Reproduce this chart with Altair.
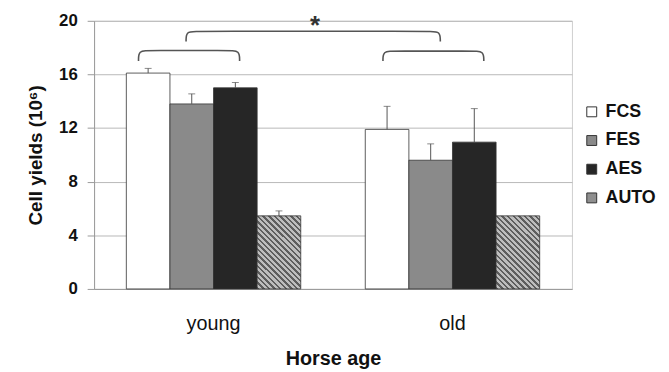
import altair as alt
import pandas as pd

# ---- data ----
ages = ["young", "old"]
groups = ["FCS", "FES", "AES", "AUTO"]
young_vals = [16.1, 13.8, 15.0, 5.45]
young_err = [0.35, 0.75, 0.4, 0.37]
old_vals = [11.9, 9.6, 10.95, 5.45]
old_err = [1.72, 1.22, 2.5, 0.0]
fill_colors = ["#ffffff", "#8a8a8a", "#262626", "#8f8f8f"]

# significance brackets (x on a 0..2 category axis, y in 10^6 cells)
br_id = ["b1", "b2", "b3"]
br_x0 = [0.186, 0.385, 1.209]
br_x1 = [0.609, 1.449, 1.631]
br_ybot = [17.0, 18.45, 17.0]
br_ytop = [17.78, 19.22, 17.74]
star_x = [0.925]
star_y = [19.9]

rows = []
for a, vals, errs in [("young", young_vals, young_err), ("old", old_vals, old_err)]:
    for g, v, e in zip(groups, vals, errs):
        rows.append({"age": a, "group": g, "value": v, "err": e, "top": v + e})
df = pd.DataFrame(rows)

pts = []
for b, x0, x1, yb, yt in zip(br_id, br_x0, br_x1, br_ybot, br_ytop):
    dx = 0.045
    seq = [(x0, yb), (x0, yt), (x0 + dx, yt), (x1 - dx, yt), (x1, yt), (x1, yb)]
    for i, (x, y) in enumerate(seq):
        pts.append({"bracket": b, "i": i, "x": x, "y": y})
bdf = pd.DataFrame(pts)
sdf = pd.DataFrame({"x": star_x, "y": star_y, "t": ["*"]})

# hatched fill for AUTO (45 degree stripes via a hard-stop linear gradient)
n_stripes = 21
stops = []
for k in range(n_stripes):
    a0 = k / n_stripes
    a1 = (k + 0.45) / n_stripes
    a2 = (k + 1) / n_stripes
    stops += [
        {"offset": a0, "color": "#5e5e5e"},
        {"offset": a1, "color": "#5e5e5e"},
        {"offset": a1, "color": "#bdbdbd"},
        {"offset": a2, "color": "#bdbdbd"},
    ]
hatch = {"gradient": "linear", "x1": 0, "y1": 1, "x2": 0.701, "y2": -0.178, "stops": stops}

yscale = alt.Scale(domain=[0, 20], nice=False)
xscale = alt.Scale(domain=ages, paddingInner=0.27, paddingOuter=0.135)
xoff = alt.Scale(domain=groups, paddingInner=0, paddingOuter=0)

x_enc = alt.X(
    "age:N", scale=xscale, sort=ages,
    axis=alt.Axis(title="Horse age", labelAngle=0, ticks=False, domainColor="#9a9a9a",
                  labelFont="Liberation Sans", labelFontSize=20, labelColor="#111",
                  labelPadding=25, titleFont="Liberation Sans", titleFontSize=20,
                  titleFontWeight="bold", titleColor="#111", titlePadding=15, grid=False),
)
y_enc = alt.Y(
    "value:Q", scale=yscale,
    axis=alt.Axis(title="Cell yields (10⁶)", values=[0, 4, 8, 12, 16, 20], tickSize=7,
                  tickColor="#9a9a9a", domainColor="#9a9a9a", gridColor="#b8b8b8",
                  labelFont="Liberation Sans", labelFontSize=17, labelFontWeight="bold",
                  labelColor="#111", labelPadding=10, titleFont="Liberation Sans",
                  titleFontSize=19, titleFontWeight="bold", titleColor="#111",
                  titlePadding=13),
)

bars = alt.Chart(df).mark_bar(stroke="#333", strokeWidth=0.8).encode(
    x=x_enc,
    xOffset=alt.XOffset("group:N", scale=xoff, sort=groups),
    y=y_enc,
    fill=alt.condition(
        "datum.group == 'AUTO'",
        alt.value(hatch),
        alt.Fill("group:N", sort=groups,
                 scale=alt.Scale(domain=groups, range=fill_colors),
                 legend=alt.Legend(title=None, orient="none", legendX=494, legendY=83,
                                   symbolType="square", symbolSize=100,
                                   symbolStrokeColor="#333", symbolStrokeWidth=1,
                                   labelFont="Liberation Sans", labelFontSize=18,
                                   labelFontWeight="bold", labelColor="#111",
                                   labelOffset=5, rowPadding=11, padding=0)),
    ),
)

errdf = df[df["err"] > 0]
err_line = alt.Chart(errdf).mark_rule(color="#555", strokeWidth=1).encode(
    x=alt.X("age:N", scale=xscale, sort=ages, axis=None),
    xOffset=alt.XOffset("group:N", scale=xoff, sort=groups),
    y=alt.Y("value:Q", scale=yscale),
    y2="top:Q",
)
err_cap = alt.Chart(errdf).mark_tick(color="#555", orient="horizontal", size=7, thickness=1).encode(
    x=alt.X("age:N", scale=xscale, sort=ages, axis=None),
    xOffset=alt.XOffset("group:N", scale=xoff, sort=groups),
    y=alt.Y("top:Q", scale=yscale),
)

qx = alt.Scale(domain=[0, 2], nice=False, zero=False)
brackets = alt.Chart(bdf).mark_line(color="#555", strokeWidth=1.6, interpolate="basis").encode(
    x=alt.X("x:Q", scale=qx, axis=None),
    y=alt.Y("y:Q", scale=yscale),
    detail="bracket:N",
    order="i:Q",
)
star = alt.Chart(sdf).mark_text(font="Liberation Sans", fontSize=26, fontWeight="bold",
                                color="#333", baseline="middle", dy=4).encode(
    x=alt.X("x:Q", scale=qx, axis=None),
    y=alt.Y("y:Q", scale=yscale),
    text="t:N",
)

chart = (
    alt.layer(bars, err_line, err_cap, brackets, star)
    .resolve_scale(x="independent")
    .properties(width=483, height=271, padding={"left": 87, "top": 11, "right": 90, "bottom": 80},
                autosize=alt.AutoSizeParams(type="none"))
    .configure_view(stroke="#cfcfcf", strokeWidth=1)
    .configure_axis(domainWidth=1, gridWidth=1)
)

chart.save("out.html", embed_options={"renderer": "svg", "actions": False})
